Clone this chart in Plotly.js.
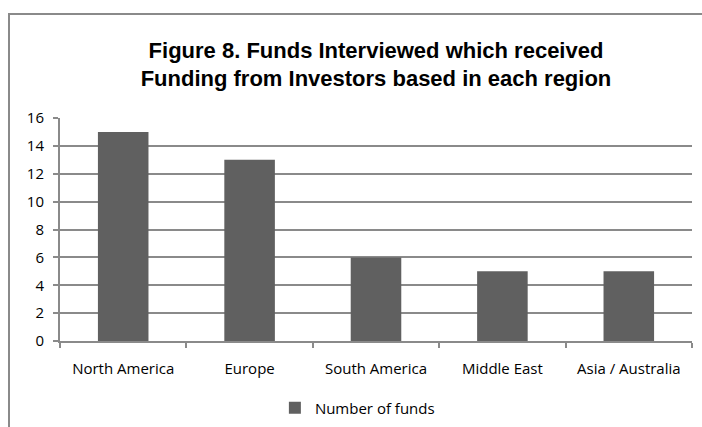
<!DOCTYPE html>
<html><head><meta charset="utf-8">
<script src="https://cdn.plot.ly/plotly-3.0.1.min.js"></script>
<style>
html,body{margin:0;padding:0;background:#fff;}
#frame{position:absolute;left:8px;top:13px;width:700px;height:430px;border:2px solid #8a8a8a;box-sizing:border-box;}
#chart{position:absolute;left:0;top:0;width:702px;height:427px;}
</style></head>
<body>
<div id="frame"></div>
<div id="chart"></div>
<script>
var categories = ["North America", "Europe", "South America", "Middle East", "Asia / Australia"];
var fundCounts = [15, 13, 6, 5, 5];
var seriesName = "Number of funds";
var yTicks = [0, 2, 4, 6, 8, 10, 12, 14, 16];

var trace = {
  type: "bar",
  x: categories,
  y: fundCounts,
  name: seriesName,
  marker: {color: "#606060"},
  showlegend: true
};

var layout = {
  width: 702, height: 427,
  margin: {l: 60, r: 10, t: 118, b: 86, autoexpand: false},
  paper_bgcolor: "rgba(0,0,0,0)",
  plot_bgcolor: "rgba(0,0,0,0)",
  font: {family: "Open Sans, Arial, sans-serif", size: 15, color: "#000"},
  title: {
    text: "<b>Figure 8. Funds Interviewed which received<br>Funding from Investors based in each region</b>",
    x: 0.5, xanchor: "center", xref: "paper",
    y: 0.865, yanchor: "middle",
    font: {family: "Liberation Sans, Arial, sans-serif", size: 22, color: "#000"}
  },
  bargap: 0.6,
  xaxis: {
    type: "category",
    tickson: "boundaries",
    automargin: false,
    ticks: "outside", ticklen: 5, tickcolor: "#8a8a8a", tickwidth: 2,
    showline: true, linecolor: "#8a8a8a", linewidth: 2,
    showgrid: false, zeroline: false,
    ticklabelstandoff: 13,
    tickfont: {size: 15}
  },
  yaxis: {
    range: [0, 16],
    tickvals: yTicks,
    automargin: false,
    ticks: "outside", ticklen: 5, tickcolor: "#8a8a8a", tickwidth: 2,
    showline: true, linecolor: "#8a8a8a", linewidth: 2,
    showgrid: true, gridcolor: "#8a8a8a", gridwidth: 2,
    zeroline: false,
    ticklabelstandoff: 6,
    tickfont: {size: 15}
  },
  legend: {
    orientation: "h",
    x: 0.34, xanchor: "left",
    y: -0.30, yanchor: "middle",
    font: {size: 15},
    itemwidth: 30
  }
};

Plotly.newPlot("chart", [trace], layout, {displayModeBar: false, staticPlot: true});
</script>
</body></html>
